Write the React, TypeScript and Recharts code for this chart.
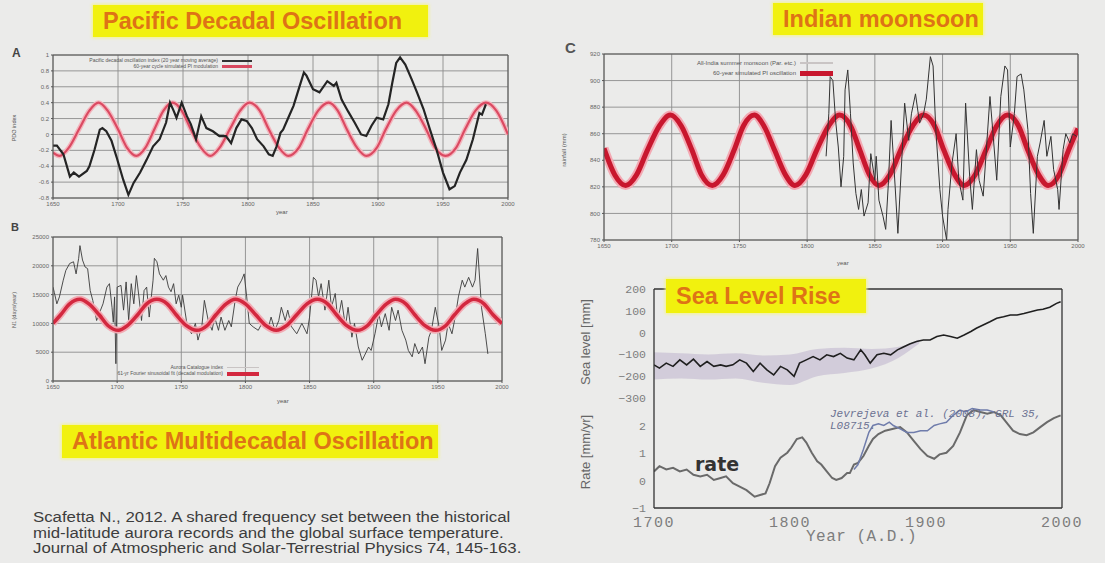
import React from "react";
import {
  Area,
  CartesianGrid,
  ComposedChart,
  Line,
  LineChart,
  ReferenceLine,
  XAxis,
  YAxis,
} from "recharts";

// ---- axis ticks ----
const yearTicks = [1650, 1700, 1750, 1800, 1850, 1900, 1950, 2000];
const pdoTicks = [-0.8, -0.6, -0.4, -0.2, 0, 0.2, 0.4, 0.6, 0.8, 1];
const auroraTicks = [0, 5000, 10000, 15000, 20000, 25000];
const rainTicks = [780, 800, 820, 840, 860, 880, 900, 920];
const seaLevelTicks = [-300, -200, -100, 0, 100, 200];
const rateTicks = [-1, 0, 1, 2];
const seaYearTicks = [1700, 1800, 1900, 2000];

// ---- A: Pacific decadal oscillation (year, index) ----
const pdoIndex: [number, number][] = [
  [1650, -0.14], [1653, -0.14], [1658, -0.25], [1663, -0.53], [1666, -0.48], [1670, -0.53],
  [1676, -0.46], [1678, -0.4], [1682, -0.19], [1686, 0.06], [1688, 0.08], [1691, 0.04],
  [1695, -0.08], [1699, -0.29], [1704, -0.57], [1708, -0.76], [1712, -0.61], [1717, -0.48],
  [1722, -0.32], [1727, -0.15], [1732, -0.06], [1737, 0.15], [1740, 0.4], [1743, 0.29],
  [1745, 0.21], [1749, 0.4], [1753, 0.23], [1756, 0.13], [1760, -0.06], [1764, 0.23],
  [1768, 0.08], [1773, 0.04], [1778, -0.02], [1783, -0.02], [1787, -0.11], [1791, 0.08],
  [1795, 0.19], [1799, 0.17], [1803, 0.08], [1807, -0.06], [1812, -0.15], [1816, -0.25],
  [1819, -0.27], [1822, -0.15], [1825, 0.02], [1827, 0.06], [1831, 0.21], [1835, 0.36],
  [1839, 0.57], [1843, 0.78], [1845, 0.74], [1850, 0.57], [1855, 0.53], [1861, 0.67],
  [1866, 0.61], [1868, 0.65], [1872, 0.44], [1877, 0.29], [1882, 0.15], [1887, 0.0],
  [1891, -0.02], [1895, 0.11], [1899, 0.21], [1904, 0.19], [1908, 0.38], [1911, 0.65],
  [1914, 0.9], [1917, 0.97], [1921, 0.88], [1926, 0.69], [1930, 0.53], [1935, 0.32],
  [1940, 0.06], [1945, -0.19], [1950, -0.48], [1955, -0.69], [1959, -0.65], [1963, -0.48],
  [1968, -0.32], [1973, -0.06], [1978, 0.27], [1980, 0.25], [1983, 0.38],
];
const pdoCycle: [number, number][] = [
  [1650, -0.23], [1655, -0.27], [1662, -0.17], [1670, 0.065], [1678, 0.3], [1685, 0.4],
  [1692, 0.3], [1700, 0.065], [1707, -0.17], [1714, -0.27], [1721, -0.17], [1728, 0.065],
  [1735, 0.3], [1742, 0.4], [1749, 0.3], [1756, 0.065], [1764, -0.17], [1771, -0.27],
  [1778, -0.17], [1786, 0.065], [1794, 0.3], [1801, 0.4], [1809, 0.3], [1816, 0.065],
  [1824, -0.17], [1831, -0.27], [1839, -0.17], [1846, 0.065], [1854, 0.3], [1862, 0.4],
  [1869, 0.3], [1876, 0.065], [1884, -0.17], [1891, -0.27], [1899, -0.17], [1906, 0.065],
  [1914, 0.3], [1922, 0.4], [1929, 0.3], [1937, 0.065], [1944, -0.17], [1952, -0.27],
  [1960, -0.17], [1967, 0.065], [1975, 0.3], [1983, 0.4], [1991, 0.3], [2000, 0.0],
];

// ---- B: aurora record (year, events) ----
const auroraIndex: [number, number][] = [
  [1650, 16300], [1651, 15400], [1653, 13400], [1655, 14600], [1658, 17500], [1660, 19200],
  [1663, 20400], [1666, 20700], [1668, 18600], [1670, 21300], [1671, 23500], [1673, 21000],
  [1675, 19800], [1677, 19500], [1679, 15700], [1681, 14000], [1684, 10500], [1686, 11700],
  [1689, 13400], [1692, 16300], [1694, 16900], [1696, 12800], [1697, 10200], [1698, 14600],
  [1699, 3000], [1700, 16300], [1703, 16600], [1705, 12300], [1707, 17200], [1709, 10500],
  [1711, 16900], [1713, 13400], [1715, 18300], [1717, 14600], [1719, 10500], [1721, 15700],
  [1723, 16300], [1725, 11100], [1728, 17500], [1729, 21300], [1731, 20700], [1733, 18600],
  [1736, 17500], [1738, 18300], [1740, 16300], [1742, 15500], [1744, 16900], [1746, 13400],
  [1748, 14900], [1750, 12800], [1751, 14900], [1754, 10500], [1755, 9400], [1758, 8200],
  [1761, 10000], [1763, 7100], [1766, 9400], [1768, 14000], [1771, 10500], [1774, 8800],
  [1776, 11100], [1779, 8800], [1781, 11100], [1784, 8800], [1787, 10500], [1789, 9400],
  [1792, 14000], [1794, 16300], [1797, 17500], [1799, 18600], [1801, 14600], [1803, 10000],
  [1806, 9400], [1810, 8800], [1814, 10500], [1818, 9400], [1820, 11100], [1823, 8800],
  [1826, 10500], [1828, 12800], [1831, 10500], [1833, 12300], [1836, 9400], [1840, 8200],
  [1844, 10000], [1848, 8200], [1850, 11100], [1853, 18000], [1855, 17500], [1857, 14600],
  [1859, 16900], [1862, 12300], [1865, 17500], [1867, 12800], [1870, 15200], [1872, 10500],
  [1875, 14000], [1878, 9400], [1880, 12800], [1883, 7600], [1885, 10000], [1888, 5900],
  [1891, 3600], [1893, 4500], [1896, 5900], [1898, 5300], [1901, 8200], [1904, 11700],
  [1906, 9400], [1909, 11700], [1912, 8800], [1914, 12800], [1917, 10500], [1919, 12300],
  [1922, 8800], [1925, 7100], [1927, 5300], [1930, 4200], [1932, 6500], [1935, 4700],
  [1938, 5900], [1940, 3000], [1943, 7600], [1945, 8800], [1948, 12800], [1951, 9400],
  [1953, 5300], [1956, 7100], [1958, 10000], [1961, 8200], [1964, 11700], [1966, 14600],
  [1969, 17500], [1971, 16300], [1974, 18000], [1977, 16300], [1979, 17500], [1981, 23000],
  [1983, 16300], [1984, 12800], [1987, 8200], [1989, 4700],
];
const auroraCycle: [number, number][] = [
  [1650, 10000], [1656, 11500], [1663, 13400], [1671, 14200], [1678, 13400], [1686, 11500],
  [1693, 9600], [1701, 8800], [1708, 9600], [1716, 11500], [1723, 13400], [1731, 14200],
  [1739, 13400], [1746, 11500], [1754, 9600], [1762, 8800], [1770, 9600], [1777, 11500],
  [1785, 13400], [1792, 14200], [1800, 13400], [1808, 11500], [1816, 9600], [1824, 8800],
  [1832, 9600], [1840, 11500], [1848, 13400], [1856, 14200], [1864, 13400], [1871, 11500],
  [1879, 9600], [1887, 8800], [1895, 9600], [1902, 11500], [1910, 13400], [1917, 14200],
  [1925, 13400], [1932, 11500], [1940, 9600], [1948, 8800], [1956, 9600], [1963, 11500],
  [1971, 13400], [1978, 14200], [1986, 13400], [1993, 11500], [2000, 10000],
];

// ---- C: Indian monsoon rainfall (year, mm) ----
const monsoonRain: [number, number][] = [
  [1814, 843], [1816, 875], [1817, 903], [1819, 900], [1821, 870], [1823, 850], [1825, 820],
  [1827, 843], [1828, 893], [1830, 908], [1832, 875], [1834, 838], [1836, 815], [1838, 803],
  [1840, 818], [1842, 798], [1845, 808], [1847, 845], [1850, 825], [1851, 843], [1853, 810],
  [1856, 798], [1858, 788], [1860, 823], [1862, 870], [1865, 820], [1867, 785], [1870, 843],
  [1872, 883], [1875, 855], [1877, 875], [1880, 890], [1883, 868], [1886, 875], [1888, 886],
  [1891, 918], [1893, 911], [1895, 863], [1898, 818], [1900, 798], [1903, 780], [1904, 803],
  [1907, 838], [1910, 860], [1912, 825], [1915, 810], [1917, 883], [1920, 828], [1922, 803],
  [1925, 848], [1927, 825], [1930, 813], [1932, 843], [1935, 888], [1937, 863], [1940, 825],
  [1943, 888], [1946, 911], [1948, 908], [1950, 850], [1953, 875], [1955, 903], [1958, 905],
  [1960, 893], [1963, 863], [1965, 815], [1967, 785], [1970, 843], [1972, 853], [1975, 870],
  [1977, 843], [1980, 858], [1982, 833], [1985, 818], [1986, 803], [1989, 848], [1991, 860],
  [1994, 853], [1996, 860], [1999, 858],
];
const monsoonCycle: [number, number][] = [
  [1650, 849], [1658, 829], [1666, 821], [1674, 829], [1682, 847.5], [1691, 866], [1699, 874],
  [1707, 866], [1715, 847.5], [1722, 829], [1730, 821], [1738, 829], [1746, 847.5], [1753, 866],
  [1761, 874], [1768, 866], [1776, 847.5], [1784, 829], [1791, 821], [1799, 829], [1807, 847.5],
  [1816, 866], [1824, 874], [1832, 866], [1839, 847.5], [1846, 829], [1853, 821], [1861, 829],
  [1869, 847.5], [1878, 866], [1886, 874], [1894, 866], [1901, 847.5], [1909, 829], [1916, 821],
  [1924, 829], [1932, 847.5], [1940, 866], [1948, 874], [1956, 866], [1963, 847.5], [1971, 829],
  [1978, 821], [1986, 829], [1993, 847.5], [2000, 864],
];

// ---- D: sea level (year, mm), uncertainty band, rates (mm/yr) ----
const seaLevel: [number, number][] = [
  [1700, -148], [1704, -163], [1709, -140], [1714, -155], [1719, -125], [1724, -148],
  [1729, -122], [1734, -155], [1739, -133], [1744, -155], [1749, -148], [1753, -155],
  [1758, -148], [1763, -125], [1768, -140], [1773, -178], [1778, -140], [1783, -171],
  [1788, -194], [1793, -155], [1798, -171], [1803, -201], [1807, -140], [1812, -125],
  [1817, -110], [1822, -125], [1827, -102], [1832, -110], [1837, -95], [1842, -117],
  [1847, -125], [1852, -79], [1855, -102], [1859, -140], [1864, -102], [1869, -95],
  [1874, -102], [1879, -79], [1883, -67], [1888, -52], [1893, -41], [1898, -34],
  [1903, -34], [1908, -18], [1913, -11], [1918, -18], [1923, -26], [1928, -11],
  [1933, 5], [1937, 20], [1942, 35], [1947, 50], [1952, 66], [1957, 73], [1962, 81],
  [1967, 81], [1972, 88], [1977, 96], [1982, 104], [1986, 107], [1991, 116], [1996, 134],
  [1999, 142],
];
const seaLevelBand: [number, number, number][] = [
  [1700, -215, -90], [1720, -210, -95], [1740, -215, -100], [1760, -210, -95],
  [1780, -230, -105], [1800, -240, -100], [1820, -200, -75], [1840, -185, -70],
  [1860, -165, -75], [1880, -115, -65], [1895, -50, -32],
];
const seaRate: [number, number][] = [
  [1700, 0.33], [1704, 0.52], [1709, 0.4], [1714, 0.46], [1719, 0.33], [1724, 0.4],
  [1729, 0.21], [1734, 0.15], [1739, 0.21], [1744, 0.02], [1749, 0.09], [1753, 0.15],
  [1758, -0.1], [1763, -0.22], [1768, -0.35], [1774, -0.59], [1778, -0.53], [1782, -0.47],
  [1785, -0.1], [1789, 0.52], [1793, 0.83], [1798, 1.01], [1801, 1.2], [1805, 1.51],
  [1809, 1.57], [1812, 1.38], [1816, 1.01], [1820, 0.7], [1823, 0.58], [1827, 0.33],
  [1831, 0.09], [1834, 0.02], [1838, 0.09], [1842, 0.27], [1844, 0.27], [1847, 0.58],
  [1850, 0.64], [1854, 0.89], [1858, 1.26], [1861, 1.51], [1865, 1.69], [1870, 1.81],
  [1876, 1.88], [1881, 1.94], [1886, 1.75], [1891, 1.44], [1896, 1.14], [1901, 0.89],
  [1906, 0.79], [1910, 0.95], [1915, 1.01], [1920, 1.26], [1925, 1.75], [1930, 2.37],
  [1935, 2.56], [1940, 2.49], [1945, 2.43], [1950, 2.49], [1955, 2.37], [1960, 2.06],
  [1964, 1.81], [1969, 1.69], [1974, 1.65], [1979, 1.75], [1984, 1.94], [1989, 2.12],
  [1994, 2.27], [1999, 2.37],
];
const jevrejevaRate: [number, number][] = [
  [1847, 0.4], [1850, 0.58], [1854, 1.14], [1858, 1.75], [1861, 2.0], [1865, 2.06],
  [1869, 2.0], [1873, 2.12], [1876, 2.0], [1881, 1.88], [1886, 1.75], [1891, 1.75],
  [1896, 1.81], [1901, 1.81], [1906, 2.0], [1910, 2.06], [1915, 2.12], [1920, 2.37],
  [1925, 2.56], [1929, 2.49], [1934, 2.62], [1940, 2.56], [1945, 2.56], [1950, 2.49],
];

const toRows = (pts: [number, number][]) => pts.map(([year, v]) => ({ year, v }));

const FONT = '"Liberation Sans", Arial, sans-serif';
const MONO = '"Liberation Mono", "DejaVu Sans Mono", monospace';
const BG = "#ebebea";
const smallTick = { fontSize: 6, fill: "#666", fontFamily: FONT };
const monoTick = { fontSize: 11.5, fill: "#7d7d7d", fontFamily: MONO };
const minusFmt = (v: number) => (v < 0 ? "\u2212" + Math.abs(v) : String(v));

function TitleBox({ x, y, w, h, text }: { x: number; y: number; w: number; h: number; text: string }) {
  return (
    <div
      style={{
        position: "absolute", left: x, top: y, width: w, height: h, background: "#f1f10e",
        color: "#de7316", fontWeight: "bold", fontSize: 23.5, fontFamily: FONT,
        display: "flex", alignItems: "center", paddingLeft: 10, boxSizing: "border-box",
        boxShadow: "0 0 3px 1px #f4f48a", whiteSpace: "nowrap",
      }}
    >
      {text}
    </div>
  );
}

function Txt({ x, y, size, children, style }: any) {
  return (
    <div style={{ position: "absolute", left: x, top: y, fontSize: size, whiteSpace: "nowrap", lineHeight: 1, ...style }}>
      {children}
    </div>
  );
}

function VLabel({ cx, cy, size, text, color = "#555", family = FONT }: any) {
  return (
    <div
      style={{
        position: "absolute", left: cx, top: cy, fontSize: size, color, fontFamily: family,
        whiteSpace: "nowrap", lineHeight: 1, transform: "translate(-50%, -50%) rotate(-90deg)",
      }}
    >
      {text}
    </div>
  );
}

function LegendRow({ right, y, size, text, color, thick, len }: any) {
  return (
    <div style={{ position: "absolute", left: right - 400, top: y, width: 400 + len + 4, display: "flex", alignItems: "center", justifyContent: "flex-end", fontSize: size, color: "#555", lineHeight: 1 }}>
      <span style={{ marginRight: 4 }}>{text}</span>
      <span style={{ display: "inline-block", width: len, height: thick, background: color }} />
    </div>
  );
}

export default function App() {
  const pdoRows = toRows(pdoIndex);
  const pdoCycleRows = toRows(pdoCycle);
  const auroraRows = toRows(auroraIndex);
  const auroraCycleRows = toRows(auroraCycle);
  const rainRows = toRows(monsoonRain);
  const rainCycleRows = toRows(monsoonCycle);
  const seaRows = toRows(seaLevel);
  const bandRows = seaLevelBand.map(([year, lo, hi]) => ({ year, band: [lo, hi] }));
  const rateRows = toRows(seaRate);
  const jevRows = toRows(jevrejevaRate);

  const frame = "#555";
  const grid = "#8c8c8c";

  return (
    <div style={{ position: "absolute", left: 0, top: 0, width: 1105, height: 563, background: BG, overflow: "hidden", fontFamily: FONT }}>
      {/* ---------- A: PDO ---------- */}
      <div style={{ position: "absolute", left: 0, top: 40 }}>
        <LineChart width={520} height={180} margin={{ top: 15, right: 12, bottom: 6, left: 15 }}>
          <CartesianGrid stroke={grid} strokeWidth={0.9} />
          <XAxis type="number" dataKey="year" domain={[1650, 2000]} ticks={yearTicks} interval={0} allowDataOverflow
            tick={smallTick} tickSize={2} height={16} stroke={frame} />
          <YAxis type="number" domain={[-0.8, 1]} ticks={pdoTicks} interval={0} allowDataOverflow
            tick={smallTick} tickSize={2} width={38} stroke={frame} />
          <ReferenceLine x={2000} stroke={frame} />
          <ReferenceLine y={1} stroke={frame} />
          <Line data={pdoCycleRows} dataKey="v" type="monotone" stroke="#f3b5bd" strokeWidth={5} dot={false} isAnimationActive={false} />
          <Line data={pdoCycleRows} dataKey="v" type="monotone" stroke="#db4a62" strokeWidth={2.2} dot={false} isAnimationActive={false} />
          <Line data={pdoRows} dataKey="v" type="linear" stroke="#242424" strokeWidth={2.2} dot={false} isAnimationActive={false} />
        </LineChart>
      </div>
      <Txt x={12} y={47} size={12} style={{ fontWeight: "bold", color: "#444" }}>A</Txt>
      <VLabel cx={15} cy={128} size={5.5} text="PDO index" />
      <Txt x={276} y={209} size={6} style={{ color: "#555" }}>year</Txt>
      <LegendRow right={218} y={58} size={5} text="Pacific decadal oscillation index (20 year moving average)" color="#333" thick={2} len={30} />
      <LegendRow right={218} y={64} size={5} text="60-year cycle simulated PI modulation" color="#d9485f" thick={3} len={30} />

      {/* ---------- B: aurora ---------- */}
      <div style={{ position: "absolute", left: 0, top: 220 }}>
        <LineChart width={514} height={183} margin={{ top: 17, right: 12, bottom: 6, left: 15 }}>
          <CartesianGrid stroke={grid} strokeWidth={0.9} />
          <XAxis type="number" dataKey="year" domain={[1650, 2000]} ticks={yearTicks} interval={0} allowDataOverflow
            tick={smallTick} tickSize={2} height={16} stroke={frame} />
          <YAxis type="number" domain={[0, 25000]} ticks={auroraTicks} interval={0} allowDataOverflow
            tick={smallTick} tickSize={2} width={38} stroke={frame} />
          <ReferenceLine x={2000} stroke={frame} />
          <ReferenceLine y={25000} stroke={frame} />
          <Line data={auroraRows} dataKey="v" type="linear" stroke="#3a3a3a" strokeWidth={0.9} dot={false} isAnimationActive={false} />
          <Line data={auroraCycleRows} dataKey="v" type="monotone" stroke="#f2aab3" strokeWidth={7} dot={false} isAnimationActive={false} />
          <Line data={auroraCycleRows} dataKey="v" type="monotone" stroke="#d3283f" strokeWidth={3.5} dot={false} isAnimationActive={false} />
        </LineChart>
      </div>
      <Txt x={11} y={222} size={11} style={{ fontWeight: "bold", color: "#444" }}>B</Txt>
      <VLabel cx={15} cy={310} size={5.5} text="N1 (days/year)" />
      <Txt x={277} y={398} size={6} style={{ color: "#555" }}>year</Txt>
      <LegendRow right={223} y={365} size={5} text="Aurora Catalogue index" color="#c9c4c4" thick={1} len={32} />
      <LegendRow right={223} y={371} size={5} text="61-yr Fourier sinusoidal fit (decadal modulation)" color="#d3283f" thick={4} len={32} />

      {/* ---------- C: Indian monsoon ---------- */}
      <div style={{ position: "absolute", left: 560, top: 40 }}>
        <LineChart width={530} height={222} margin={{ top: 14, right: 12, bottom: 6, left: 6 }}>
          <CartesianGrid stroke={grid} strokeWidth={0.9} />
          <XAxis type="number" dataKey="year" domain={[1650, 2000]} ticks={yearTicks} interval={0} allowDataOverflow
            tick={smallTick} tickSize={2} height={16} stroke={frame} />
          <YAxis type="number" domain={[780, 920]} ticks={rainTicks} interval={0} allowDataOverflow
            tick={smallTick} tickSize={2} width={38} stroke={frame} />
          <ReferenceLine x={2000} stroke={frame} />
          <ReferenceLine y={920} stroke={frame} />
          <Line data={rainCycleRows} dataKey="v" type="monotone" stroke="#f3a9b3" strokeWidth={9} dot={false} isAnimationActive={false} />
          <Line data={rainCycleRows} dataKey="v" type="monotone" stroke="#c8172e" strokeWidth={5} dot={false} isAnimationActive={false} />
          <Line data={rainRows} dataKey="v" type="linear" stroke="#333" strokeWidth={1} dot={false} isAnimationActive={false} />
        </LineChart>
      </div>
      <Txt x={565} y={40} size={15} style={{ fontWeight: "bold", color: "#555" }}>C</Txt>
      <VLabel cx={564} cy={150} size={6} text="rainfall (mm)" />
      <Txt x={837} y={260} size={6} style={{ color: "#555" }}>year</Txt>
      <LegendRow right={796} y={60} size={6} text="All-India summer monsoon (Par. etc.)" color="#c9c4c4" thick={1.2} len={33} />
      <LegendRow right={796} y={70} size={6} text="60-year simulated PI oscillation" color="#c8172e" thick={5} len={33} />

      {/* ---------- D: sea level ---------- */}
      <div style={{ position: "absolute", left: 560, top: 280 }}>
        <ComposedChart width={530} height={126} data={bandRows} margin={{ top: 9, right: 28, bottom: 8, left: 10 }}>
          <XAxis type="number" dataKey="year" domain={[1700, 2000]} ticks={seaYearTicks} interval={0} allowDataOverflow
            tick={false} tickLine={false} height={0} stroke="#333" strokeWidth={1.3} />
          <YAxis type="number" domain={[-300, 200]} ticks={seaLevelTicks} interval={0} allowDataOverflow
            tick={monoTick} tickFormatter={minusFmt} tickLine={false} tickSize={6} width={84} stroke="#333" strokeWidth={1.3} />
          <ReferenceLine x={2000} stroke="#333" strokeWidth={1.3} />
          <ReferenceLine y={200} stroke="#333" strokeWidth={1.3} />
          <Area dataKey="band" type="monotone" fill="#ab9bbf" fillOpacity={0.38} stroke="none" isAnimationActive={false} />
          <Line data={seaRows} dataKey="v" type="linear" stroke="#1f1f1f" strokeWidth={1.6} dot={false} isAnimationActive={false} />
        </ComposedChart>
      </div>
      <div style={{ position: "absolute", left: 560, top: 390 }}>
        <LineChart width={530} height={146} margin={{ top: 8, right: 28, bottom: 0, left: 10 }}>
          <XAxis type="number" dataKey="year" domain={[1700, 2000]} ticks={seaYearTicks} interval={0} allowDataOverflow
            tick={{ fontSize: 15, fill: "#7d7d7d", fontFamily: MONO, letterSpacing: 1.5 }} tickLine={false} tickSize={6}
            height={28} stroke="#333" strokeWidth={1.3} />
          <YAxis type="number" domain={[-1, 3]} ticks={rateTicks} interval={0} allowDataOverflow
            tick={monoTick} tickFormatter={minusFmt} tickLine={false} tickSize={6} width={84} stroke="#333" strokeWidth={1.3} />
          <ReferenceLine x={2000} stroke="#333" strokeWidth={1.3} />
          <Line data={rateRows} dataKey="v" type="linear" stroke="#6a6a6a" strokeWidth={2} dot={false} isAnimationActive={false} />
          <Line data={jevRows} dataKey="v" type="linear" stroke="#6f7cab" strokeWidth={1.5} dot={false} isAnimationActive={false} />
        </LineChart>
      </div>
      <VLabel cx={585} cy={342} size={13} text="Sea level [mm]" color="#666" />
      <VLabel cx={585} cy={452} size={13} text="Rate [mm/yr]" color="#666" />
      <Txt x={806} y={529} size={16} style={{ fontFamily: MONO, color: "#7d7d7d", letterSpacing: 0.5 }}>Year (A.D.)</Txt>
      <Txt x={695} y={455} size={19} style={{ fontFamily: '"DejaVu Sans", sans-serif', fontWeight: "bold", color: "#333" }}>rate</Txt>
      <Txt x={830} y={408} size={11} style={{ fontFamily: MONO, fontStyle: "italic", color: "#6b7292", lineHeight: "12px" }}>
        Jevrejeva et al. (2008), GRL 35,<br />L08715.
      </Txt>

      {/* ---------- titles ---------- */}
      <TitleBox x={93} y={5} w={335} h={32} text="Pacific Decadal Oscillation" />
      <TitleBox x={773} y={3} w={210} h={32} text="Indian moonsoon" />
      <TitleBox x={62} y={425} w={376} h={33} text="Atlantic Multidecadal Oscillation" />
      <TitleBox x={666} y={279} w={200} h={34} text="Sea Level Rise" />

      {/* ---------- citation ---------- */}
      <div style={{ position: "absolute", left: 33, top: 510, fontSize: 14, lineHeight: "15.5px", color: "#3d3d3d", whiteSpace: "nowrap", transform: "scaleX(1.2)", transformOrigin: "left top" }}>
        Scafetta N., 2012. A shared frequency set between the historical<br />
        mid-latitude aurora records and the global surface temperature.<br />
        Journal of Atmospheric and Solar-Terrestrial Physics 74, 145-163.
      </div>
    </div>
  );
}
